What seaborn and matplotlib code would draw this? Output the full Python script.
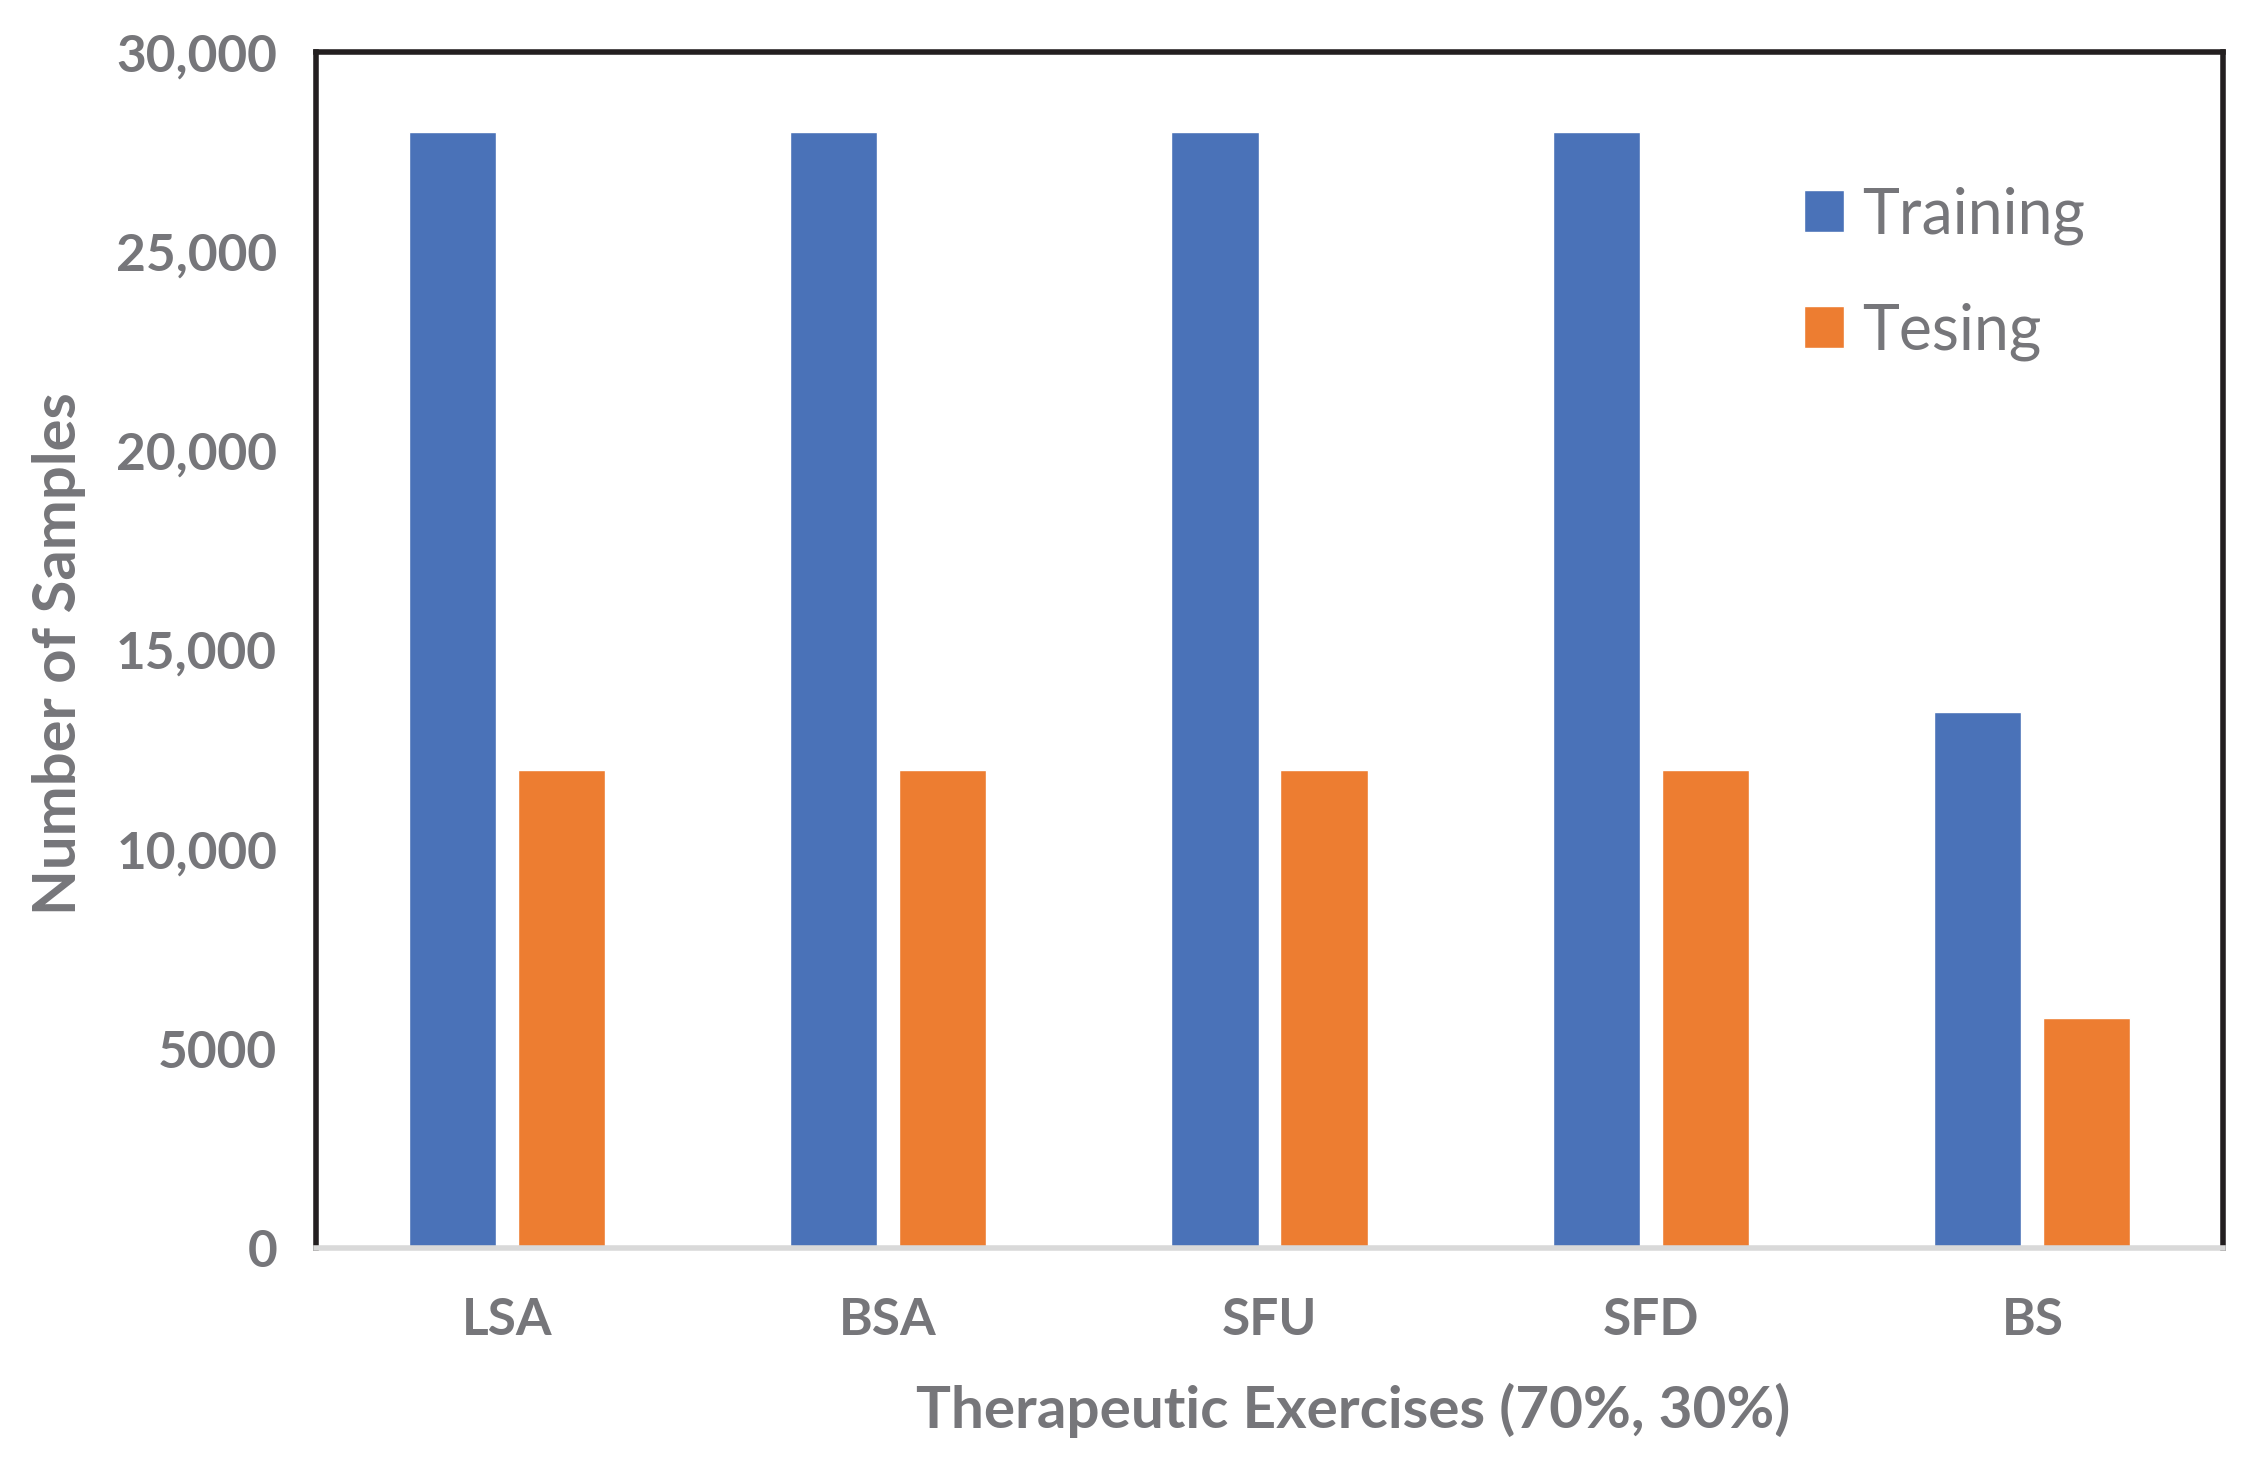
import matplotlib
matplotlib.use("Agg")
import matplotlib.pyplot as plt
import seaborn as sns
import pandas as pd

# --- dados
exercicios = ['LSA', 'BSA', 'SFU', 'SFD', 'BS']
treino = [28000, 28000, 28000, 28000, 13440]
teste = [12000, 12000, 12000, 12000, 5760]
series = ['Training', 'Tesing']
y_ticks = [0, 5000, 10000, 15000, 20000, 25000, 30000]
y_ticklabels = ['0', '5000', '10,000', '15,000', '20,000', '25,000', '30,000']

dados = pd.DataFrame({
    'exercicio': exercicios * 2,
    'amostras': treino + teste,
    'conjunto': [series[0]] * len(exercicios) + [series[1]] * len(exercicios),
})

sns.set_style('white')
plt.rcParams['font.family'] = ['Lato', 'DejaVu Sans']

cinza = '#76767A'
azul = '#4A72B8'
laranja = '#ED7D31'

fig = plt.figure(figsize=(22.62, 14.59), dpi=100)
ax = fig.add_axes([0.1397, 0.1446, 0.8431, 0.8197])

sns.barplot(
    data=dados, x='exercicio', y='amostras', hue='conjunto',
    palette=[azul, laranja], saturation=1, errorbar=None,
    width=0.5716, gap=0.2, ax=ax,
)

ax.set_ylim(0, 30000)
ax.set_xlim(-0.5, 4.5)
ax.set_yticks(y_ticks)
ax.set_yticklabels(y_ticklabels)
ax.tick_params(axis='y', length=0, pad=28, labelsize=37, labelcolor=cinza)
ax.tick_params(axis='x', length=0, pad=35, labelsize=37, labelcolor=cinza)
for lbl in ax.get_xticklabels() + ax.get_yticklabels():
    lbl.set_fontweight('bold')

# moldura: preta em cima/lados, cinza claro embaixo
for lado in ['top', 'left', 'right']:
    ax.spines[lado].set_color('#231F20')
    ax.spines[lado].set_linewidth(4)
ax.spines['bottom'].set_color('#D9D9D9')
ax.spines['bottom'].set_linewidth(4)
ax.spines['bottom'].set_zorder(5)

ax.set_xlabel('Therapeutic Exercises (70%, 30%)', fontsize=42,
              fontweight='bold', color=cinza, va='center')
ax.xaxis.set_label_coords(0.544, -0.1355)
ax.set_ylabel('Number of Samples', fontsize=43, fontweight='bold',
              color=cinza, va='center')
ax.yaxis.set_label_coords(-0.1348, 0.497)

handles, labels = ax.get_legend_handles_labels()
leg = ax.legend(
    handles, labels, loc='upper left', bbox_to_anchor=(0.780, 0.888),
    frameon=False, fontsize=45, handlelength=0.64, handleheight=0.64,
    handletextpad=0.3, labelspacing=0.92, borderpad=0, borderaxespad=0,
)
for t in leg.get_texts():
    t.set_color(cinza)

fig.savefig('out.png', dpi=100, facecolor='white')
